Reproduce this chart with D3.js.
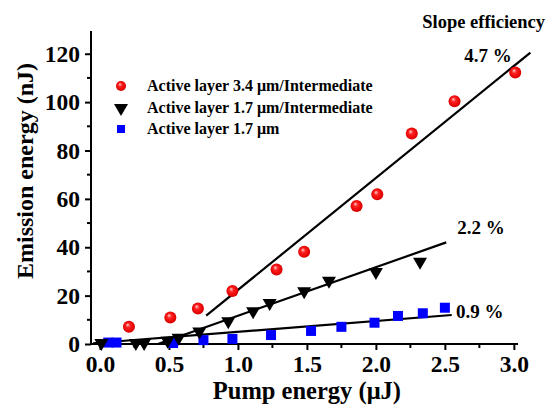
<!DOCTYPE html>
<html>
<head>
<meta charset="utf-8">
<script src="https://cdn.jsdelivr.net/npm/d3@7"></script>
<style>
  html, body { margin: 0; padding: 0; background: #fff; }
  svg { display: block; }
  text { font-family: 'Liberation Serif', 'Times New Roman', serif; font-weight: bold; fill: #000; }
</style>
</head>
<body>
<div id="chart"></div>
<script>
// data: [pump energy (uJ), emission energy (nJ)]
const red34 = [
  [0.21, 7.1], [0.51, 11.0], [0.71, 14.7], [0.96, 21.9], [1.28, 30.8],
  [1.48, 38.1], [1.86, 57.1], [2.01, 61.9], [2.26, 87.0], [2.57, 100.4], [3.01, 112.2],
];
const black17 = [
  [0.01, 0.0], [0.26, 0.0], [0.32, 0.0], [0.49, 0.9], [0.57, 2.2], [0.72, 4.8],
  [0.93, 9.0], [1.11, 13.1], [1.23, 16.5], [1.48, 21.4], [1.66, 25.7], [2.0, 29.4], [2.32, 33.6],
];
const blue17 = [
  [0.06, 0.6], [0.12, 0.6], [0.53, 0.4], [0.75, 1.6], [0.96, 2.1], [1.24, 3.7],
  [1.53, 5.4], [1.75, 7.1], [1.99, 8.8], [2.16, 11.6], [2.34, 12.7], [2.5, 15.0],
];
// fitted lines (end points)
const redFit = [[0.77, 11.7], [3.12, 120.5]];
const blackFit = [[0.42, 0.0], [2.51, 42.0]];
const blueFit = [[-0.05, 0.3], [2.55, 12.0]];

const xTicks = [0, 0.5, 1.0, 1.5, 2.0, 2.5, 3.0];
const yTicks = [0, 20, 40, 60, 80, 100, 120];
const legendLabels = [
  'Active layer 3.4 \u03bcm/Intermediate',
  'Active layer 1.7 \u03bcm/Intermediate',
  'Active layer 1.7 \u03bcm',
];
const slopeLabels = [
  { text: '4.7 %', at: [2.64, 116.4] },
  { text: '2.2 %', at: [2.59, 45.4] },
  { text: '0.9 %', at: [2.58, 10.7] },
];

const W = 546, H = 405;
const svg = d3.select('#chart').append('svg').attr('width', W).attr('height', H);

const x = d3.scaleLinear().domain([-0.065, 3.03]).range([91, 518]);
const y = d3.scaleLinear().domain([0, 129.4]).range([344, 31]);

const defs = svg.append('defs');
const grad = defs.append('radialGradient').attr('id', 'ball')
  .attr('cx', '50%').attr('cy', '50%').attr('r', '55%')
  .attr('fx', '38%').attr('fy', '32%');
grad.append('stop').attr('offset', '0%').attr('stop-color', '#ffd0d0');
grad.append('stop').attr('offset', '35%').attr('stop-color', '#ff2020');
grad.append('stop').attr('offset', '85%').attr('stop-color', '#e00000');
grad.append('stop').attr('offset', '100%').attr('stop-color', '#b00000');

// axes
const xAxis = d3.axisBottom(x).tickValues(xTicks).tickSize(6).tickPadding(5)
  .tickFormat(d3.format('.1f'));
const yAxis = d3.axisLeft(y).tickValues(yTicks).tickSize(6).tickPadding(5)
  .tickFormat(d3.format('d'));

const gx = svg.append('g').attr('transform', 'translate(0,344)').call(xAxis);
const gy = svg.append('g').attr('transform', 'translate(91,0)').call(yAxis);
[gx, gy].forEach(g => {
  g.select('.domain').attr('stroke', '#000').attr('stroke-width', 2);
  g.selectAll('.tick line').attr('stroke', '#000').attr('stroke-width', 2);
  g.selectAll('.tick text')
    .style('font-family', "'Liberation Serif', 'Times New Roman', serif")
    .style('font-weight', 'bold').style('font-size', '23.5px').attr('fill', '#000');
});
gx.select('.domain').attr('d', `M${x.range()[0]},0H${x.range()[1]}`);
gy.select('.domain').attr('d', `M0,${y.range()[0]}V${y.range()[1]}`);

// minor ticks
const xMinor = d3.range(0.25, 3.0, 0.5);
svg.append('g').selectAll('line').data(xMinor).join('line')
  .attr('x1', d => x(d)).attr('x2', d => x(d))
  .attr('y1', 344).attr('y2', 348)
  .attr('stroke', '#000').attr('stroke-width', 2);
const yMinor = d3.range(10, 130, 20);
svg.append('g').selectAll('line').data(yMinor).join('line')
  .attr('x1', 91).attr('x2', 87)
  .attr('y1', d => y(d)).attr('y2', d => y(d))
  .attr('stroke', '#000').attr('stroke-width', 2);

// axis titles
svg.append('text').attr('x', (x(0) + x(3)) / 2).attr('y', 399)
  .attr('text-anchor', 'middle').style('font-size', '24.5px')
  .text('Pump energy (\u03bcJ)');
svg.append('text').attr('transform', 'translate(33,171) rotate(-90)')
  .attr('text-anchor', 'middle').style('font-size', '24px')
  .text('Emission energy (nJ)');

// fit lines
const line = d3.line().x(d => x(d[0])).y(d => y(d[1]));
[redFit, blackFit, blueFit].forEach(f => {
  svg.append('path').attr('d', line(f)).attr('fill', 'none')
    .attr('stroke', '#000').attr('stroke-width', 2.2);
});

// markers
const triPath = (cx, cy) => `M${cx - 7},${cy - 5}L${cx + 7},${cy - 5}L${cx},${cy + 7}Z`;

svg.append('g').selectAll('rect').data(blue17).join('rect')
  .attr('x', d => x(d[0]) - 5).attr('y', d => y(d[1]) - 5)
  .attr('width', 10).attr('height', 10).attr('fill', '#0000ff');

svg.append('g').selectAll('path').data(black17).join('path')
  .attr('d', d => triPath(x(d[0]), y(d[1]))).attr('fill', '#000');

svg.append('g').selectAll('circle').data(red34).join('circle')
  .attr('cx', d => x(d[0])).attr('cy', d => y(d[1])).attr('r', 6)
  .attr('fill', 'url(#ball)');

// legend
const legend = svg.append('g');
const rows = [86, 108, 129];
legend.append('circle').attr('cx', 121).attr('cy', rows[0]).attr('r', 5).attr('fill', 'url(#ball)');
legend.append('path').attr('d', triPath(121, rows[1] + 1)).attr('fill', '#000');
legend.append('rect').attr('x', 117).attr('y', rows[2] - 4).attr('width', 8).attr('height', 8).attr('fill', '#0000ff');
legend.selectAll('text').data(legendLabels).join('text')
  .attr('x', 147).attr('y', (d, i) => rows[i] + 5)
  .style('font-size', '16px').text(d => d);

// slope labels
svg.append('text').attr('x', 545).attr('y', 28).attr('text-anchor', 'end')
  .style('font-size', '18.5px').text('Slope efficiency');
svg.selectAll('.slope').data(slopeLabels).join('text').attr('class', 'slope')
  .attr('x', d => x(d.at[0])).attr('y', d => y(d.at[1]))
  .style('font-size', '19px').text(d => d.text);
</script>
</body>
</html>
